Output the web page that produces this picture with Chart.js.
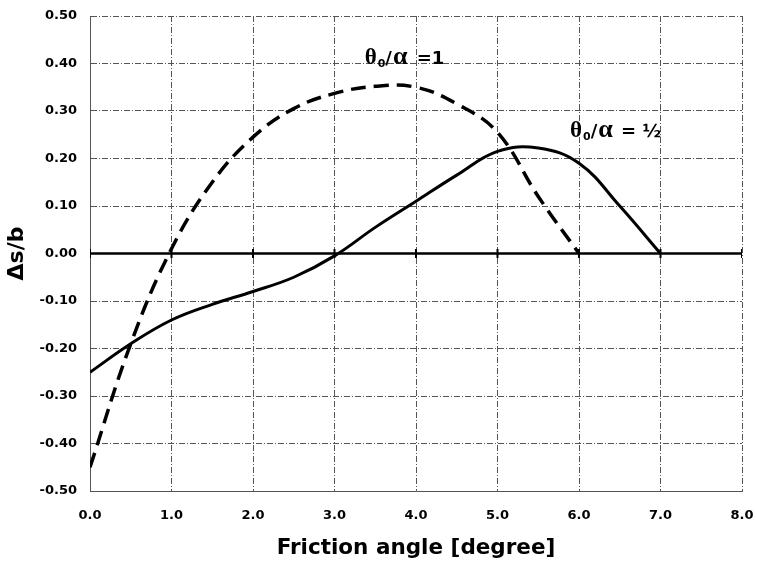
<!DOCTYPE html>
<html>
<head>
<meta charset="utf-8">
<script src="https://cdn.jsdelivr.net/npm/chart.js@4.4.1/dist/chart.umd.min.js"></script>
<style>
  body { margin: 0; background: #fff; }
  #wrap { width: 757px; height: 566px; }
</style>
</head>
<body>
<div id="wrap"><canvas id="myChart"></canvas></div>
<script>
// friction angle [degree]
const anglesHalf = [0.0, 0.5, 1.0, 1.5, 2.0, 2.5, 3.0, 3.5, 4.0, 4.5, 5.0, 5.5, 6.0, 6.5, 7.0];
const anglesOne  = [0.0, 0.5, 1.0, 1.5, 2.0, 2.5, 3.0, 3.5, 4.0, 4.5, 5.0, 5.5, 6.0];

// Δs/b for θ0/α = 1/2 (solid) and θ0/α = 1 (dashed)
const dsHalf = [-0.25, -0.19, -0.14, -0.107, -0.08, -0.05, -0.005, 0.055, 0.11, 0.165, 0.215, 0.222, 0.19, 0.10, 0.0];
const dsOne  = [-0.45, -0.19, 0.01, 0.15, 0.245, 0.305, 0.337, 0.352, 0.35, 0.315, 0.255, 0.12, 0.0];

// zero line with tick marks at each whole degree
const zeroTicks = [0, 1, 2, 3, 4, 5, 6, 7, 8];

const xTicks = [0, 1, 2, 3, 4, 5, 6, 7, 8];
const yTicks = [-0.5, -0.4, -0.3, -0.2, -0.1, 0, 0.1, 0.2, 0.3, 0.4, 0.5];

function pairs(xs, ys) {
  return xs.map((v, i) => ({x: v, y: ys[i]}));
}

const SANS = '"DejaVu Sans", Verdana, sans-serif';
const SERIF = '"Liberation Serif", "Times New Roman", serif';

// curve labels, anchored in data units (left end of the baseline)
const curveLabels = [
  {x: 3.37, y: 0.398, parts: [
    {text: 'θ', font: 'bold 23px ' + SERIF, gap: 1},
    {text: '0', font: 'bold 11px ' + SANS, dy: 3},
    {text: '/', font: 'bold 18px ' + SANS, gap: 1},
    {text: 'α', font: 'bold 26px ' + SERIF, gap: 3},
    {text: ' =1', font: 'bold 18px ' + SANS}
  ]},
  {x: 5.89, y: 0.245, parts: [
    {text: 'θ', font: 'bold 23px ' + SERIF, gap: 1},
    {text: '0', font: 'bold 11px ' + SANS, dy: 3},
    {text: '/', font: 'bold 18px ' + SANS, gap: 1},
    {text: 'α', font: 'bold 26px ' + SERIF, gap: 2},
    {text: ' = ½', font: 'bold 18px ' + SANS}
  ]}
];

const labelPlugin = {
  id: 'curveLabels',
  afterDatasetsDraw(chart) {
    const ctx = chart.ctx;
    const xs = chart.scales.x, ys = chart.scales.y;
    ctx.save();
    ctx.fillStyle = '#000';
    ctx.textBaseline = 'alphabetic';
    curveLabels.forEach(lab => {
      let px = xs.getPixelForValue(lab.x);
      const py = ys.getPixelForValue(lab.y);
      lab.parts.forEach(p => {
        ctx.font = p.font;
        ctx.fillText(p.text, px, py + (p.dy || 0));
        px += ctx.measureText(p.text).width + (p.gap || 0);
      });
    });
    ctx.restore();
  }
};

// dash-dot grid lines
const gridDash = [6, 2, 1, 2];

const config = {
  type: 'line',
  data: {
    datasets: [
      {
        label: 'zero',
        data: zeroTicks.map(v => ({x: v, y: 0})),
        borderColor: '#000',
        borderWidth: 2.5,
        pointStyle: 'line',
        rotation: 90,
        pointRadius: 4.5,
        pointBorderWidth: 2,
        pointBorderColor: '#000',
        tension: 0
      },
      {
        label: 'θ0/α = 1/2',
        data: pairs(anglesHalf, dsHalf),
        borderColor: '#000',
        borderWidth: 3,
        pointRadius: 0,
        tension: 0.4
      },
      {
        label: 'θ0/α = 1',
        data: pairs(anglesOne, dsOne),
        borderColor: '#000',
        borderWidth: 3.5,
        borderDash: [15, 8],
        pointRadius: 0,
        tension: 0.4
      }
    ]
  },
  options: {
    responsive: true,
    maintainAspectRatio: false,
    animation: false,
    layout: {padding: {top: 16, right: 15, left: 0, bottom: 0}},
    plugins: {
      legend: {display: false},
      tooltip: {enabled: false}
    },
    scales: {
      x: {
        type: 'linear',
        min: 0, max: 8,
        afterFit: s => { s.height = 75; },
        afterBuildTicks: s => { s.ticks = xTicks.map(v => ({value: v})); },
        // invisible tick marks keep the labels clear of the axis
        grid: {color: '#555', lineWidth: 1, drawTicks: true, tickLength: 17,
               tickColor: 'rgba(0,0,0,0)', tickBorderDash: gridDash},
        border: {display: true, color: '#555', dash: gridDash},
        ticks: {
          color: '#000',
          padding: 0,
          font: {family: SANS, size: 13, weight: 'bold'},
          callback: v => v.toFixed(1)
        },
        title: {
          display: true,
          text: 'Friction angle [degree]',
          color: '#000',
          font: {family: SANS, size: 21.5, weight: 'bold'},
          padding: {top: 0, bottom: 5}
        }
      },
      y: {
        min: -0.5, max: 0.5,
        afterFit: s => { s.width = 90; },
        afterBuildTicks: s => { s.ticks = yTicks.map(v => ({value: v})); },
        grid: {color: '#555', lineWidth: 1, drawTicks: true, tickLength: 13,
               tickColor: 'rgba(0,0,0,0)', tickBorderDash: gridDash},
        border: {display: true, color: '#555', dash: gridDash},
        ticks: {
          color: '#000',
          padding: 0,
          font: {family: SANS, size: 13, weight: 'bold'},
          callback: v => v.toFixed(2)
        },
        title: {
          display: true,
          text: 'Δs/b',
          color: '#000',
          font: {family: SANS, size: 22, weight: 'bold'},
          padding: {top: 4, bottom: 0}
        }
      }
    }
  },
  plugins: [labelPlugin]
};

var ctx = document.getElementById('myChart');
var myChart = new Chart(ctx, config);
</script>
</body>
</html>
